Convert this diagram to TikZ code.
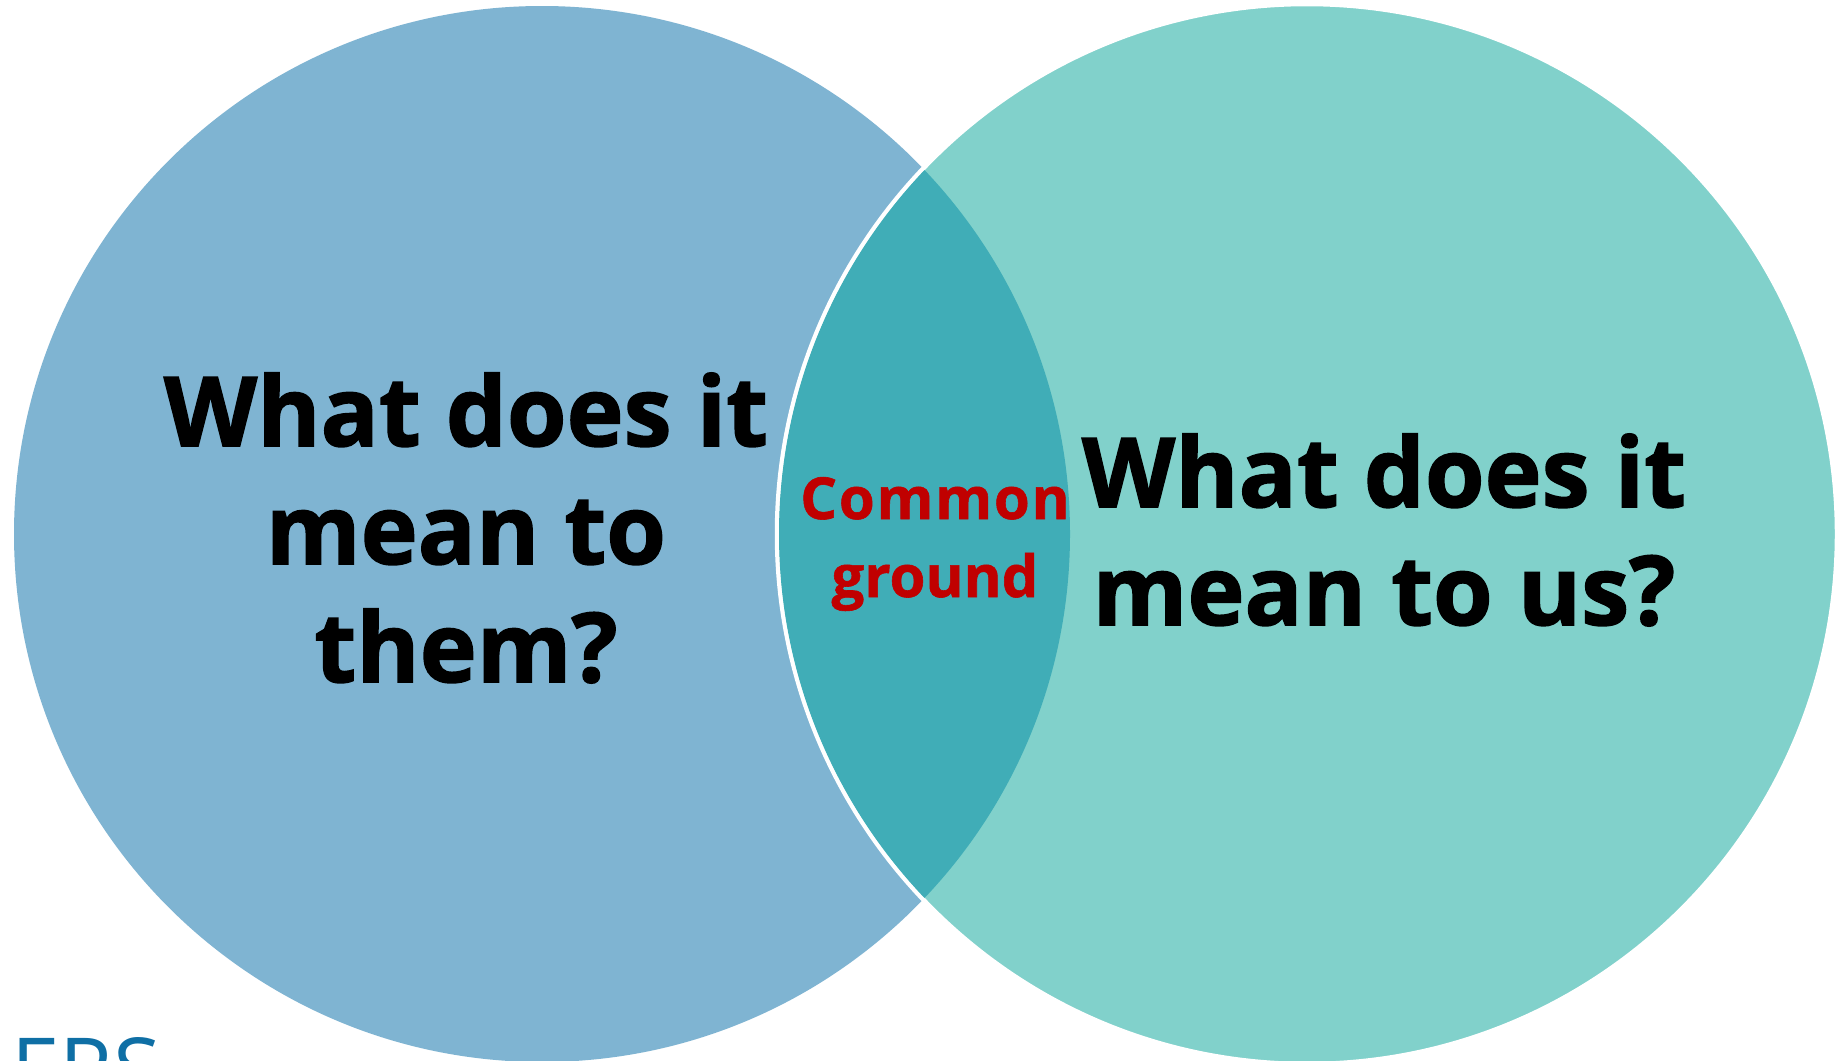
\documentclass[tikz,border=0pt]{standalone}
\usepackage{fontspec}
\setmainfont{Open Sans}
\newfontfamily\headfont{Open Sans}[BoldFeatures={FakeBold=1.5}]
\newfontfamily\redfont{Open Sans}[LetterSpace=3,BoldFeatures={FakeBold=1}]
\newfontfamily\redplain{Open Sans}[BoldFeatures={FakeBold=1}]
\newfontfamily\logofont{Open Sans}
\definecolor{leftblue}{HTML}{7FB4D2}
\definecolor{rightteal}{HTML}{81D1CB}
\definecolor{lenscol}{HTML}{40ADB7}
\definecolor{redtext}{HTML}{C00000}
\definecolor{logoblue}{HTML}{0F6FA5}
\tikzset{
  bigq/.style={align=center,text=black,inner sep=0pt,font=\headfont\bfseries\fontsize{96.5}{118}\selectfont},
  redq/.style={align=center,text=redtext,inner sep=0pt,font=\redfont\bfseries\fontsize{58}{78}\selectfont},
  logoq/.style={inner sep=0pt,text=logoblue,font=\logofont\fontsize{87}{87}\selectfont}
}
\begin{document}
\begin{tikzpicture}[x=1pt,y=-1pt]
\clip (0,0) rectangle (1836,1060);
\fill[white] (0,0) rectangle (1836,1060);
\coordinate (lc) at (542,534);
\coordinate (rc) at (1307,534);
\fill[leftblue] (lc) circle (528pt);
\filldraw[fill=rightteal,draw=white,line width=4.5pt] (rc) circle (530pt);
\begin{scope}
\clip (lc) circle (528pt);
\fill[lenscol] (rc) circle (528pt);
\end{scope}
\node[bigq] (qthem) at (466,528) {What does it\\mean to\\them?};
\node[bigq] (qus) at (1384,530) {What does it\\mean to us?};
\node[redq] (common) at (935,544) {Common\\{\redplain\bfseries ground}};
\node[logoq,anchor=base west] (logo) at (11,1100) {ERS};
\end{tikzpicture}
\end{document}
